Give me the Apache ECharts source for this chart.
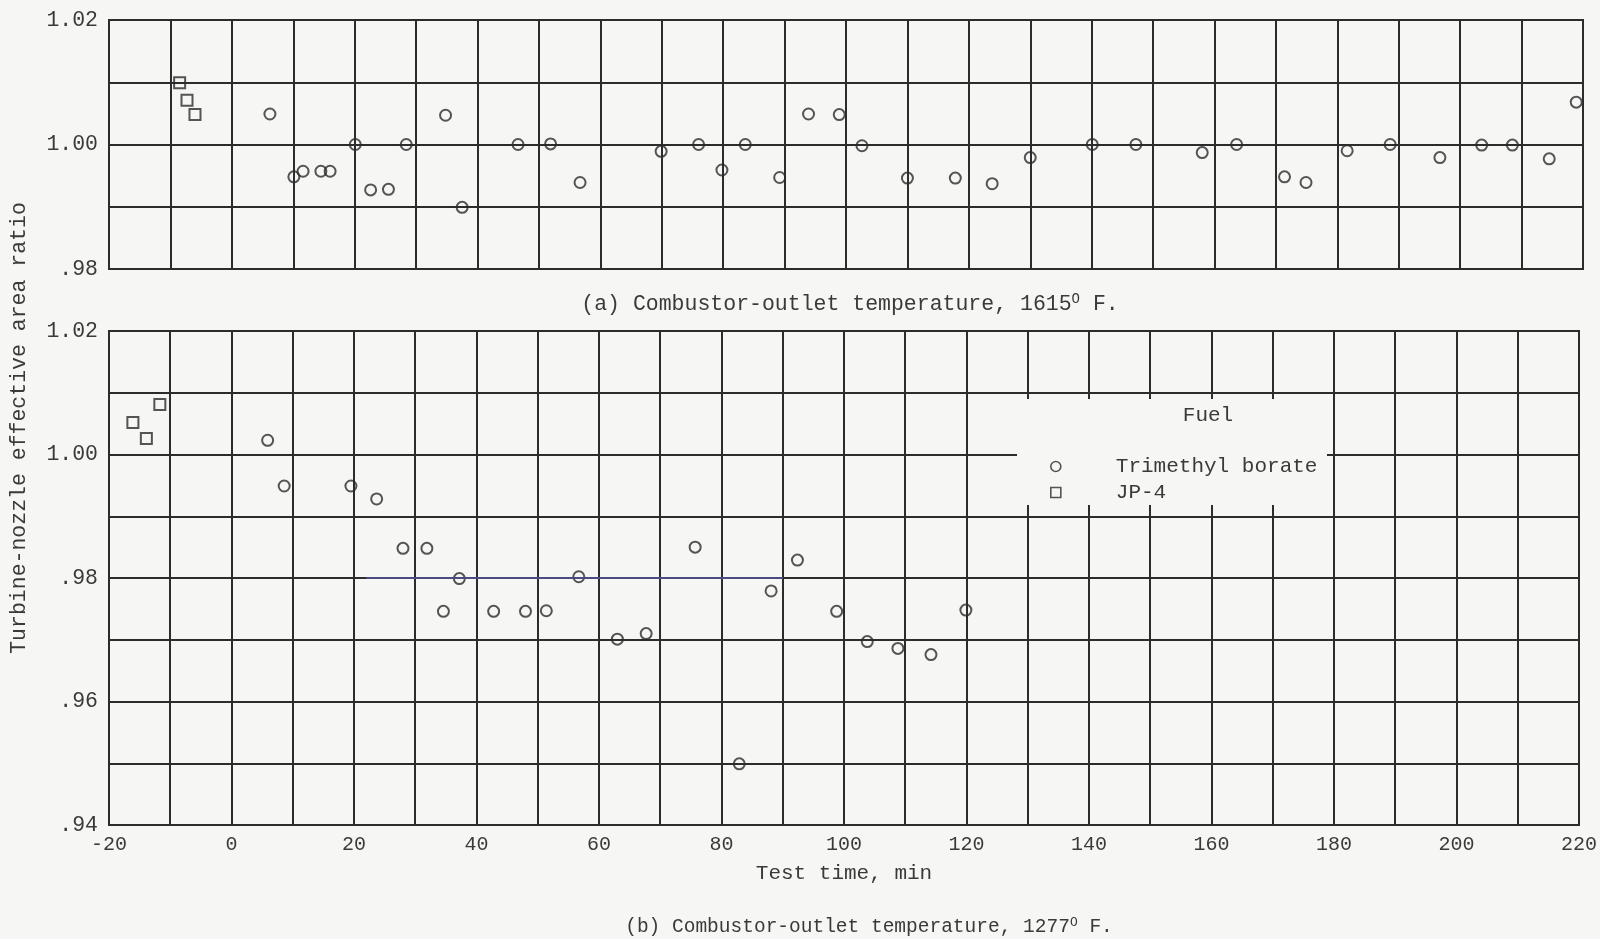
<!DOCTYPE html>
<html>
<head>
<meta charset="utf-8">
<script src="https://cdn.jsdelivr.net/npm/echarts@6/dist/echarts.min.js"></script>
<style>
  html, body { margin: 0; padding: 0; background: #f6f6f4; }
  #chart { width: 1600px; height: 939px; }
</style>
</head>
<body>
<div id="chart"></div>
<script>
// (a) Combustor-outlet temperature 1615 F
const topTmbTime = [6.2, 10.1, 11.6, 14.5, 16.0, 20.1, 22.6, 25.5, 28.4, 34.8, 37.5, 46.6, 51.9, 56.7, 69.9, 76.0, 79.8, 83.6, 89.2, 93.9, 98.9, 102.6, 110.0, 117.8, 123.8, 130.0, 140.1, 147.2, 158.0, 163.6, 171.4, 174.9, 181.6, 188.6, 196.7, 203.5, 208.5, 214.5, 218.9];
const topTmbRatio = [1.0049, 0.9948, 0.9957, 0.9957, 0.9957, 1.0000, 0.9927, 0.9928, 1.0000, 1.0047, 0.9899, 1.0000, 1.0001, 0.9939, 0.9989, 1.0000, 0.9959, 1.0000, 0.9947, 1.0049, 1.0048, 0.9998, 0.9946, 0.9946, 0.9937, 0.9979, 1.0000, 1.0000, 0.9987, 1.0000, 0.9948, 0.9939, 0.9990, 1.0000, 0.9979, 0.9999, 0.9999, 0.9977, 1.0068];
const topJp4Time = [-8.5, -7.3, -6.0];
const topJp4Ratio = [1.0099, 1.0071, 1.0048];

// (b) Combustor-outlet temperature 1277 F
const botTmbTime = [5.9, 8.6, 19.5, 23.7, 28.0, 31.9, 34.6, 37.2, 42.8, 48.0, 51.4, 56.7, 63.0, 67.7, 75.7, 82.9, 88.1, 92.4, 98.8, 103.8, 108.8, 114.2, 119.9];
const botTmbRatio = [1.0023, 0.9949, 0.9949, 0.9928, 0.9848, 0.9848, 0.9746, 0.9799, 0.9746, 0.9746, 0.9747, 0.9802, 0.9701, 0.9710, 0.9850, 0.9499, 0.9779, 0.9829, 0.9746, 0.9697, 0.9686, 0.9676, 0.9748];
const botJp4Time = [-16.1, -13.9, -11.7];
const botJp4Ratio = [1.0052, 1.0026, 1.0081];

// pen line drawn along the .98 grid line in panel (b)
const penLineTime = [22, 90];
const penLineRatio = 0.98;

const fuelNames = ['Trimethyl borate', 'JP-4'];

const INK = '#2c2c2c';
const TEXT = '#3a3a3a';
const BG = '#f6f6f4';
const FONT = '"Liberation Mono", "DejaVu Sans Mono", monospace';

const zip = (xs, ys) => xs.map((x, i) => [x, ys[i]]);

function ratioLabel(v) {
  const k = Math.round(v * 100);
  if (k % 2 !== 0) return '';
  const s = (k / 100).toFixed(2);
  return s.charAt(0) === '0' ? s.slice(1) : s;
}
function timeLabel(v) {
  const k = Math.round(v);
  return k % 20 === 0 ? String(k) : '';
}

const gridLine = { show: true, lineStyle: { color: INK, width: 2, opacity: 1 } };
const markerStyle = { color: 'transparent', borderColor: INK, borderWidth: 2 };

const chart = echarts.init(document.getElementById('chart'));

chart.setOption({
  backgroundColor: BG,
  animation: false,
  textStyle: { fontFamily: FONT },
  grid: [
    { left: 109, right: 17, top: 20, height: 249, show: true, borderColor: INK, borderWidth: 2 },
    { left: 109, right: 17, top: 331, height: 494, show: true, borderColor: INK, borderWidth: 2 }
  ],
  xAxis: [
    {
      gridIndex: 0, type: 'value', min: -20, max: 220, interval: 10,
      axisLine: { show: false }, axisTick: { show: false }, axisLabel: { show: false },
      splitLine: gridLine
    },
    {
      gridIndex: 1, type: 'value', min: -20, max: 220, interval: 10,
      axisLine: { show: false }, axisTick: { show: false },
      axisLabel: { formatter: timeLabel, color: TEXT, fontFamily: FONT, fontSize: 20, margin: 10 },
      splitLine: gridLine,
      name: 'Test time, min', nameLocation: 'middle', nameGap: 38,
      nameTextStyle: { color: TEXT, fontFamily: FONT, fontSize: 21 }
    }
  ],
  yAxis: [
    {
      gridIndex: 0, type: 'value', min: 0.98, max: 1.02, interval: 0.01,
      axisLine: { show: false }, axisTick: { show: false },
      axisLabel: { formatter: ratioLabel, color: TEXT, fontFamily: FONT, fontSize: 21.5, margin: 11 },
      splitLine: gridLine
    },
    {
      gridIndex: 1, type: 'value', min: 0.94, max: 1.02, interval: 0.01,
      axisLine: { show: false }, axisTick: { show: false },
      axisLabel: { formatter: ratioLabel, color: TEXT, fontFamily: FONT, fontSize: 21.5, margin: 11 },
      splitLine: gridLine
    }
  ],
  legend: {
    data: [{ name: fuelNames[0], icon: 'circle' }, { name: fuelNames[1], icon: 'rect' }],
    orient: 'vertical', left: 1045, top: 451,
    itemWidth: 10, itemHeight: 10, itemGap: 5,
    selectedMode: false,
    itemStyle: { color: 'transparent', borderColor: INK, borderWidth: 1.6 },
    textStyle: { fontFamily: FONT, fontSize: 21, color: TEXT, lineHeight: 21, padding: [0, 0, 0, 50] }
  },
  series: [
    {
      name: fuelNames[0], type: 'scatter', xAxisIndex: 0, yAxisIndex: 0,
      symbol: 'circle', symbolSize: 11, itemStyle: markerStyle,
      data: zip(topTmbTime, topTmbRatio)
    },
    {
      name: fuelNames[1], type: 'scatter', xAxisIndex: 0, yAxisIndex: 0,
      symbol: 'rect', symbolSize: 11, itemStyle: markerStyle,
      data: zip(topJp4Time, topJp4Ratio)
    },
    {
      name: fuelNames[0], type: 'scatter', xAxisIndex: 1, yAxisIndex: 1,
      symbol: 'circle', symbolSize: 11, itemStyle: markerStyle,
      data: zip(botTmbTime, botTmbRatio),
      markLine: {
        silent: true, symbol: 'none', label: { show: false },
        lineStyle: { color: '#4a4b80', width: 2, type: 'solid' },
        data: [[{ coord: [penLineTime[0], penLineRatio] }, { coord: [penLineTime[1], penLineRatio] }]]
      }
    },
    {
      name: fuelNames[1], type: 'scatter', xAxisIndex: 1, yAxisIndex: 1,
      symbol: 'rect', symbolSize: 11, itemStyle: markerStyle,
      data: zip(botJp4Time, botJp4Ratio)
    }
  ],
  graphic: [
    // blank area of the key, the grid is not ruled there
    { type: 'rect', z: 1, silent: true, shape: { x: 1017, y: 399, width: 310, height: 106 }, style: { fill: BG } },
    { type: 'text', z: 10, x: 1208, y: 415, style: { text: 'Fuel', fill: TEXT, fontFamily: FONT, fontSize: 21, align: 'center', verticalAlign: 'middle' } },
    {
      type: 'text', z: 10, x: 19, y: 428, rotation: Math.PI / 2,
      style: { text: 'Turbine-nozzle effective area ratio', fill: TEXT, fontFamily: FONT, fontSize: 21.5, align: 'center', verticalAlign: 'middle' }
    },
    {
      type: 'text', z: 10, x: 850, y: 304,
      style: {
        text: '(a) Combustor-outlet temperature, 1615{sup|O} F.', fill: TEXT, fontFamily: FONT, fontSize: 21.5,
        align: 'center', verticalAlign: 'middle',
        rich: { sup: { fontFamily: FONT, fontSize: 14, fill: TEXT, verticalAlign: 'top', padding: [0, 0, 10, 0] } }
      }
    },
    {
      type: 'text', z: 10, x: 869, y: 927,
      style: {
        text: '(b) Combustor-outlet temperature, 1277{sup|O} F.', fill: TEXT, fontFamily: FONT, fontSize: 19.5,
        align: 'center', verticalAlign: 'middle',
        rich: { sup: { fontFamily: FONT, fontSize: 13, fill: TEXT, verticalAlign: 'top', padding: [0, 0, 9, 0] } }
      }
    }
  ]
});
</script>
</body>
</html>
